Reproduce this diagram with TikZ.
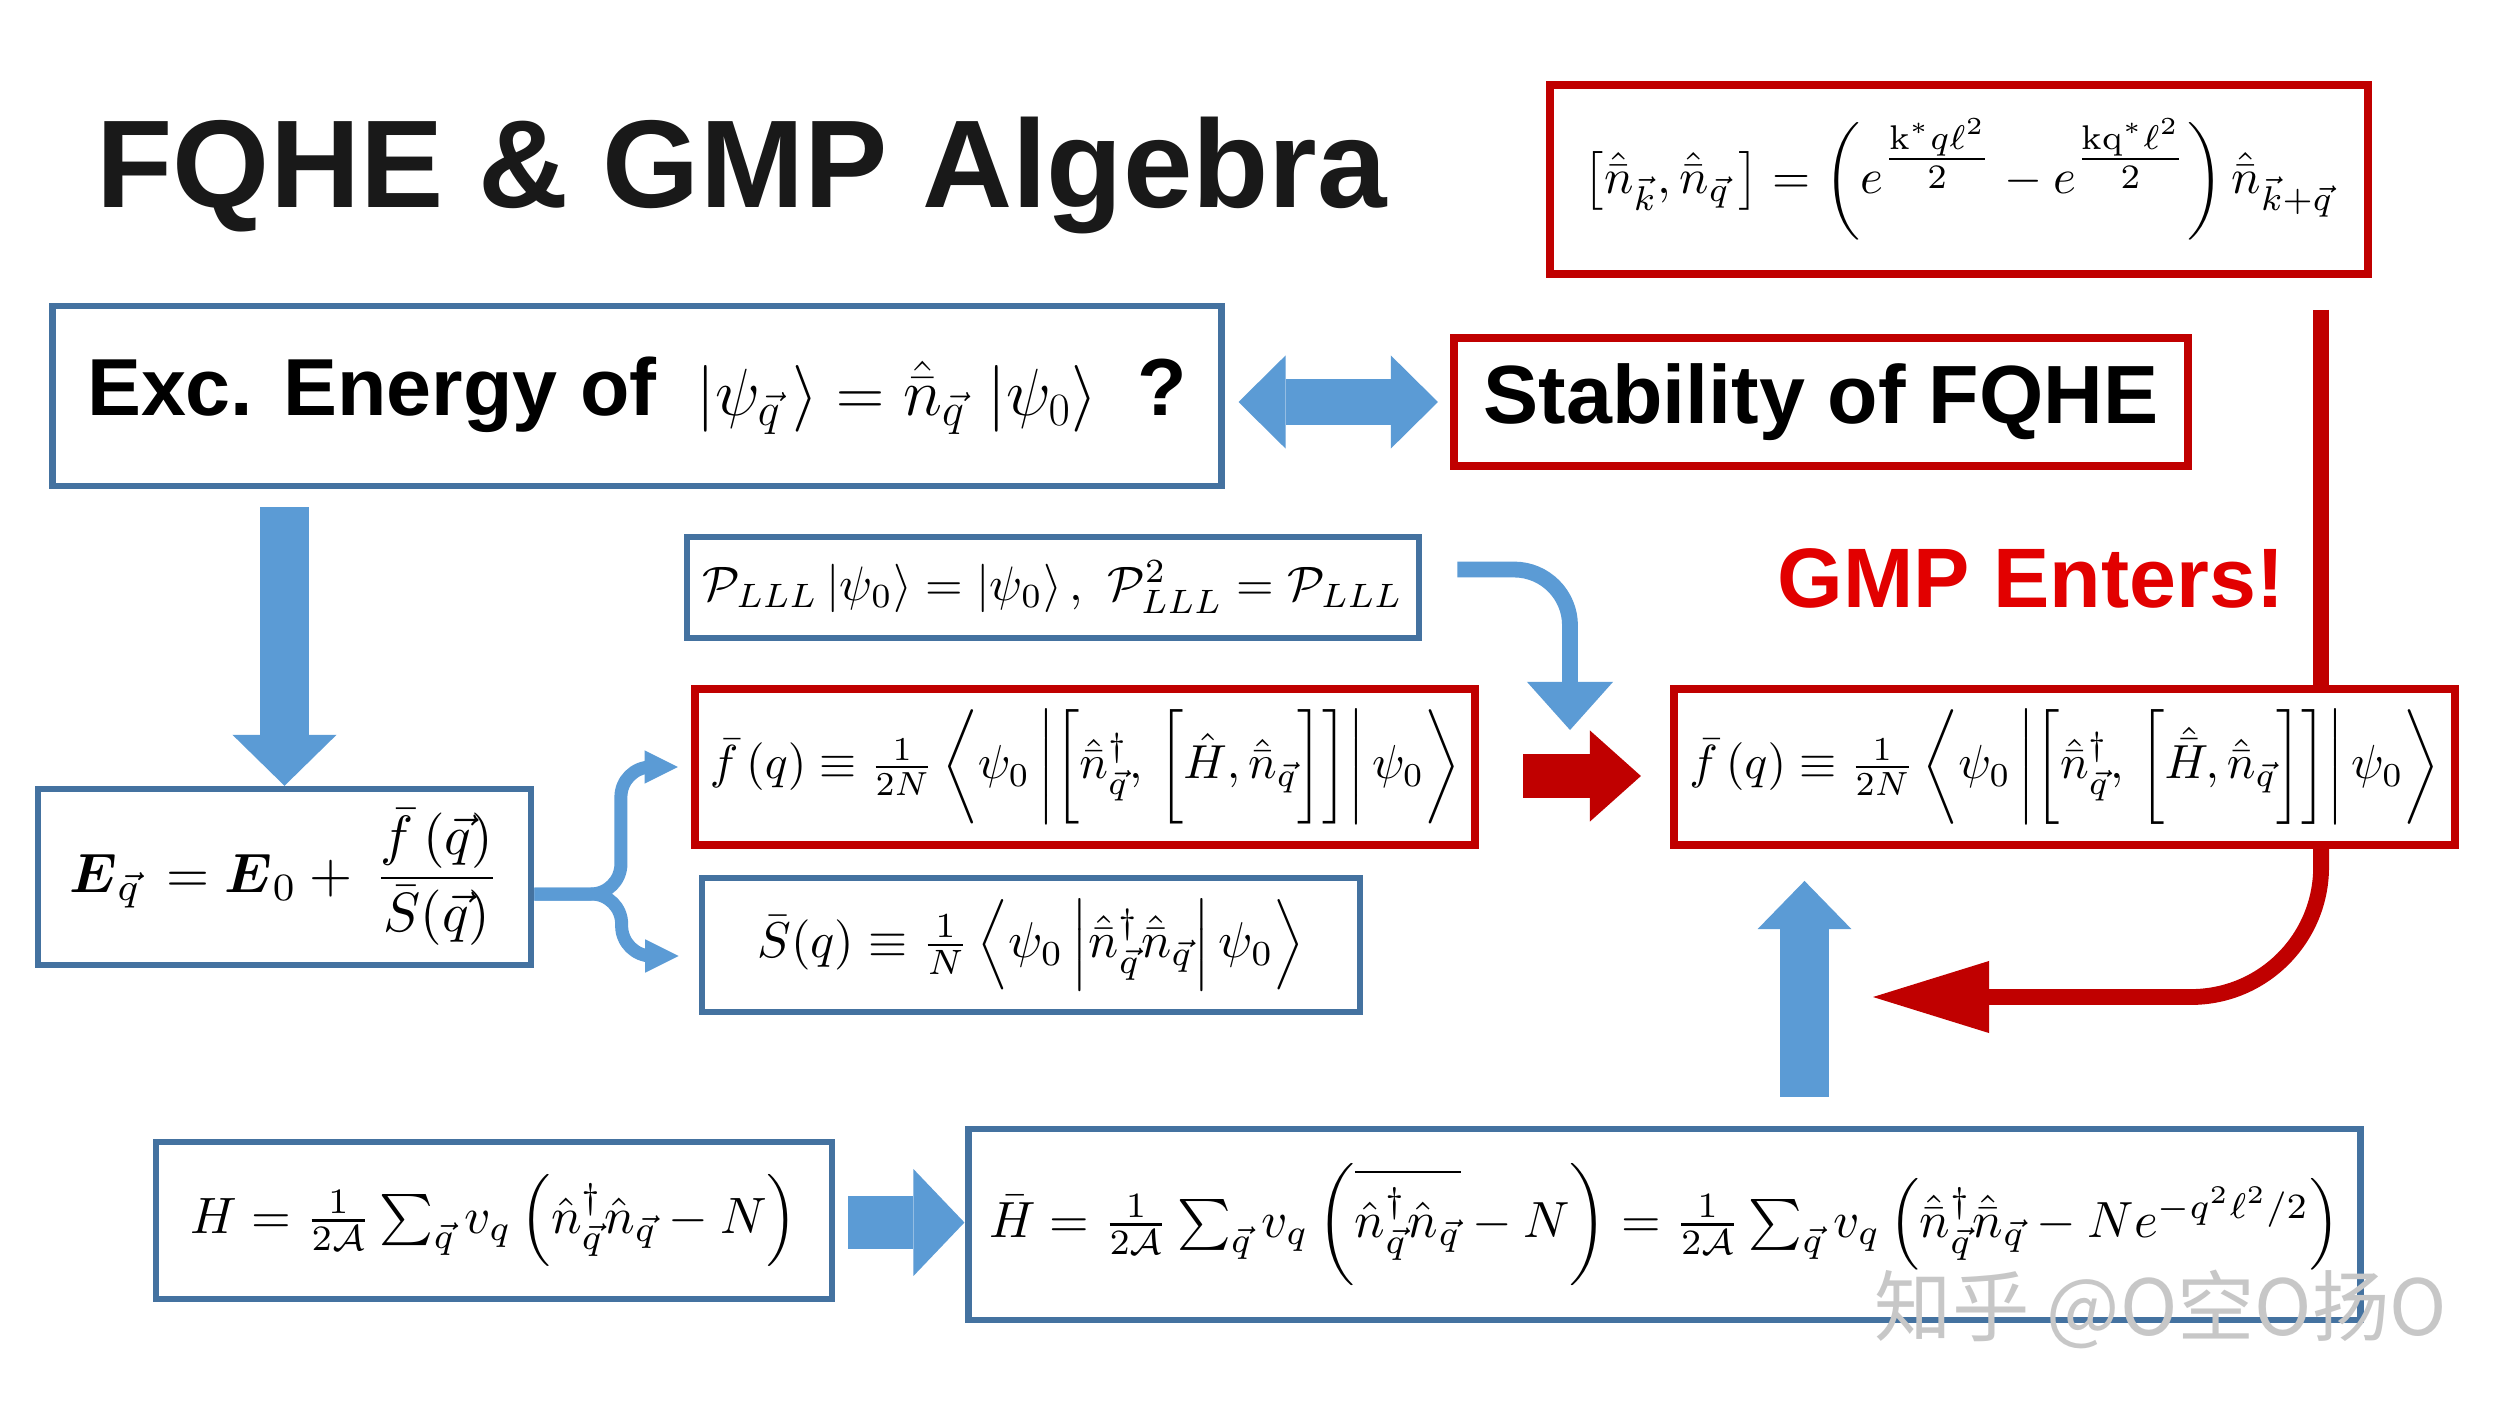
\documentclass[tikz,border=0pt]{standalone}
\usepackage{amsmath,amssymb}
\usepackage{graphicx}
\usepackage{fontspec}
\newfontfamily\headfont{Liberation Sans}
\newfontfamily\cjkfont{Noto Sans CJK SC}
\usetikzlibrary{arrows.meta, calc}

\definecolor{boxblue}{RGB}{68,114,160}
\definecolor{boxred}{RGB}{192,0,0}
\definecolor{arrblue}{RGB}{91,155,213}
\definecolor{gmpred}{RGB}{226,0,0}

% formulas are scaled to the width they take in the slide
\newcommand{\fitmath}[2]{\resizebox{#1}{!}{$#2$}}
\newcommand{\nbh}{\hat{\bar n}}

\begin{document}
\begin{tikzpicture}[
  x=0.01cm, y=-0.01cm,
  bluebox/.style={draw=boxblue, line width=1.8pt, fill=white, inner sep=0pt},
  redbox/.style={draw=boxred, line width=2.2pt, fill=white, inner sep=0pt},
  heading/.style={font=\headfont\bfseries\fontsize{35.5}{40}\selectfont, text=black!90, inner sep=0pt},
  boldtext/.style={font=\headfont\bfseries\fontsize{#1}{#1}\selectfont},
  blockblue/.style={draw=arrblue, line width=#1},
  blockred/.style={draw=boxred, line width=#1},
  thinblue/.style={draw=arrblue, line width=4.5pt},
  thinred/.style={draw=boxred, line width=4.5pt},
  watermark/.style={font=\cjkfont\fontsize{22}{22}\selectfont, text=black!22}
]
\fill[white] (0,0) rectangle (2500,1409);
\useasboundingbox (0,0) rectangle (2500,1409);

\node[heading, anchor=base west] (title) at (96,207) {FQHE \& GMP Algebra};

\node[redbox, minimum width=8.18cm, minimum height=1.89cm] (gmpalg) at (1959,179.5)
  {\fitmath{7.5cm}{\left[\nbh_{\vec k},\nbh_{\vec q}\,\right]=\left(e^{\genfrac{}{}{}{1}{\mathrm{k}^{*}q\ell^{2}}{2}}-e^{\genfrac{}{}{}{1}{\mathrm{kq}^{*}\ell^{2}}{2}}\right)\nbh_{\vec k+\vec q}}};

\node[bluebox, minimum width=11.68cm, minimum height=1.80cm, boldtext=23] (exc) at (637,396)
  {Exc. Energy of\enspace\fitmath{4.0cm}{\left|\psi_{\vec q}\,\right\rangle=\nbh_{\vec q}\,\left|\psi_0\right\rangle}\enspace?};

\node[redbox, minimum width=7.34cm, minimum height=1.28cm, boldtext=23.5] (stab) at (1821,402) {Stability of FQHE};

\node[boldtext=24, text=gmpred, anchor=base] (gmp) at (2031,607) {GMP Enters!};

\node[bluebox, minimum width=7.32cm, minimum height=1.01cm] (proj) at (1053,587.5)
  {\fitmath{7.0cm}{\mathcal{P}_{LLL}\left|\psi_0\right\rangle=\left|\psi_0\right\rangle,\ \mathcal{P}^{2}_{LLL}=\mathcal{P}_{LLL}}};

\node[redbox, minimum width=7.80cm, minimum height=1.56cm] (fl) at (1085,767)
  {\fitmath{7.5cm}{\bar f\left(q\right)\equiv\frac{1}{2N}\left\langle\vphantom{\bigg|}\psi_0\,\middle|\left[\vphantom{\bigg|}\nbh^{\dagger}_{\vec q},\,\left[\vphantom{\bigg|}\hat H,\nbh_{\vec q}\right]\right]\middle|\,\psi_0\right\rangle}};

\node[redbox, minimum width=7.81cm, minimum height=1.56cm] (fr) at (2064.5,767)
  {\fitmath{7.5cm}{\bar f\left(q\right)\equiv\frac{1}{2N}\left\langle\vphantom{\bigg|}\psi_0\,\middle|\left[\vphantom{\bigg|}\nbh^{\dagger}_{\vec q},\,\left[\vphantom{\bigg|}\hat{\bar H},\nbh_{\vec q}\right]\right]\middle|\,\psi_0\right\rangle}};

\node[bluebox, minimum width=4.93cm, minimum height=1.76cm] (E) at (284.5,877)
  {\fitmath{4.3cm}{\boldsymbol{E}_{\vec q}\,=\boldsymbol{E}_0+\,\dfrac{\bar f\left(\vec q\right)}{\bar S(\vec q)}}};

\node[bluebox, minimum width=6.58cm, minimum height=1.34cm] (S) at (1031,945)
  {\fitmath{5.47cm}{\bar S(q)\equiv\frac{1}{N}\left\langle\psi_0\,\middle|\nbh^{\dagger}_{\vec q}\nbh_{\vec q}\middle|\,\psi_0\right\rangle}};

\node[bluebox, minimum width=6.76cm, minimum height=1.57cm] (H) at (494,1220.5)
  {\fitmath{6.06cm}{H=\frac{1}{2\mathcal{A}}\sum_{\vec q}v_q\left(\hat n^{\dagger}_{\vec q}\hat n_{\vec q}-N\right)}};

\node[bluebox, minimum width=13.91cm, minimum height=1.91cm] (Hbar) at (1664.5,1224.5)
  {\fitmath{13.5cm}{\bar H=\frac{1}{2\mathcal{A}}\sum_{\vec q}v_q\left(\overline{\vphantom{\Big|}\hat n^{\dagger}_{\vec q}\hat n_{\vec q}}-N\right)=\frac{1}{2\mathcal{A}}\sum_{\vec q}v_q\left(\vphantom{\Big|}\nbh^{\dagger}_{\vec q}\nbh_{\vec q}-Ne^{-q^{2}\ell^{2}/2}\right)}};

\node[watermark] (zhihu) at (2161,1309) {知乎 @O空O扬O};

\coordinate (bluetip) at (1570,730);
\coordinate (redtip) at (1873,997);

% block arrows
\draw[blockblue=12.8pt, {Triangle[width=26.5pt,length=13.4pt,line width=0pt]}-{Triangle[width=26.5pt,length=13.4pt,line width=0pt]}]
  ($(exc.east |- stab.west)+(14,0)$) -- ($(stab.west)+(-12,0)$);
\draw[blockblue=14.2pt, -{Triangle[width=29.6pt,length=14.5pt,line width=0pt]}]
  ($(E.north |- exc.south)+(0,18)$) -- (E.north);
\draw[blockred=12.5pt, -{Triangle[width=25.9pt,length=14.5pt,line width=0pt]}]
  ($(fl.east)+(44,9)$) -- ($(fr.west)+(-29,9)$);
\draw[blockblue=13.7pt, -{Triangle[width=26.7pt,length=13.7pt,line width=0pt]}]
  ($(Hbar.north)+(140,-29)$) -- ($(fr.south -| Hbar.north)+(140,32)$);
\draw[blockblue=14.8pt, -{Triangle[width=30.4pt,length=14.5pt,line width=0pt]}]
  ($(H.east)+(13,2)$) -- ($(Hbar.west |- H.east)+(-1,2)$);

% curved arrows
\draw[thinblue, rounded corners=0.56cm, -{Triangle[width=24.5pt,length=13.7pt,line width=0pt]}]
  ($(proj.east)+(35,-18)$) -| (bluetip);
\draw[thinred] ($(gmpalg.south -| fr.north east)+(-138,32)$) -- ($(fr.north east)+(-138,0)$);
\draw[thinred, rounded corners=1.3cm, -{Triangle[width=20.5pt,length=33pt,line width=0pt]}]
  ($(fr.south east)+(-138,0)$) |- (redtip);

% brace into f and S
\draw[draw=arrblue, line width=3.7pt, rounded corners=0.3cm, -{Triangle[width=9.5pt,length=9.5pt,line width=0pt]}]
  ($(E.east)+(0,17)$) -| ($(fl.west)+(-70,0)$) -- ($(fl.west)+(-13,0)$);
\draw[draw=arrblue, line width=3.7pt, rounded corners=0.3cm, -{Triangle[width=9.5pt,length=9.5pt,line width=0pt]}]
  ($(E.east)+(0,17)$) -| ($(S.west)+(-77,11)$) -- ($(S.west)+(-20,11)$);

\end{tikzpicture}
\end{document}
